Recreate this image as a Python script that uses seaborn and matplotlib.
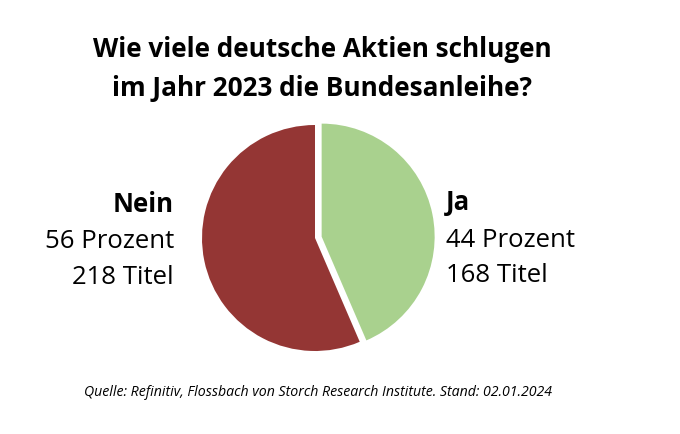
import matplotlib
matplotlib.use("Agg")
import matplotlib.pyplot as plt
import seaborn as sns

sns.set_theme(style="white")
plt.rcParams['font.family'] = ['Open Sans', 'DejaVu Sans']

categories = ["Ja", "Nein"]
titel = [168, 218]
prozent = [44, 56]
colors = ["#A9D18E", "#943634"]
title = "Wie viele deutsche Aktien schlugen\nim Jahr 2023 die Bundesanleihe?"
source = "Quelle: Refinitiv, Flossbach von Storch Research Institute. Stand: 02.01.2024"

W, H = 680, 434
fig = plt.figure(figsize=(W/100, H/100), dpi=100)
fig.patch.set_facecolor("white")

cx, cy, r = 315, 434-238, 113
half = 1.2 * r
ax = fig.add_axes([(cx-half)/W, (cy-half)/H, 2*half/W, 2*half/H])
ax.pie(titel, colors=colors, startangle=90, counterclock=False,
       explode=[0.06, 0], radius=1,
       wedgeprops=dict(linewidth=0))
ax.set_xlim(-1.2, 1.2)
ax.set_ylim(-1.2, 1.2)
ax.set_aspect("equal")
ax.axis("off")

fig.text(322/W, 1-69/H, title, ha="center", va="center", fontsize=18.8,
         fontweight="bold", linespacing=1.55, color="black")

fs = 18.5
# Nein label
fig.text(174/W, 1-205/H, categories[1], ha="right", va="center", fontsize=fs,
         fontweight="bold", color="black")
fig.text(174/W, 1-242/H, f"{prozent[1]} Prozent", ha="right", va="center",
         fontsize=fs, color="black")
fig.text(174/W, 1-277/H, f"{titel[1]} Titel", ha="right", va="center",
         fontsize=fs, color="black")

# Ja label
fig.text(446/W, 1-203/H, categories[0], ha="left", va="center", fontsize=fs,
         fontweight="bold", color="black")
fig.text(446/W, 1-240/H, f"{prozent[0]} Prozent", ha="left", va="center",
         fontsize=fs, color="black")
fig.text(446/W, 1-275/H, f"{titel[0]} Titel", ha="left", va="center",
         fontsize=fs, color="black")

fig.text(318/W, 1-393/H, source, ha="center", va="center", fontsize=10.2,
         style="italic", color="black")

fig.savefig("out.png", dpi=100, facecolor="white")
